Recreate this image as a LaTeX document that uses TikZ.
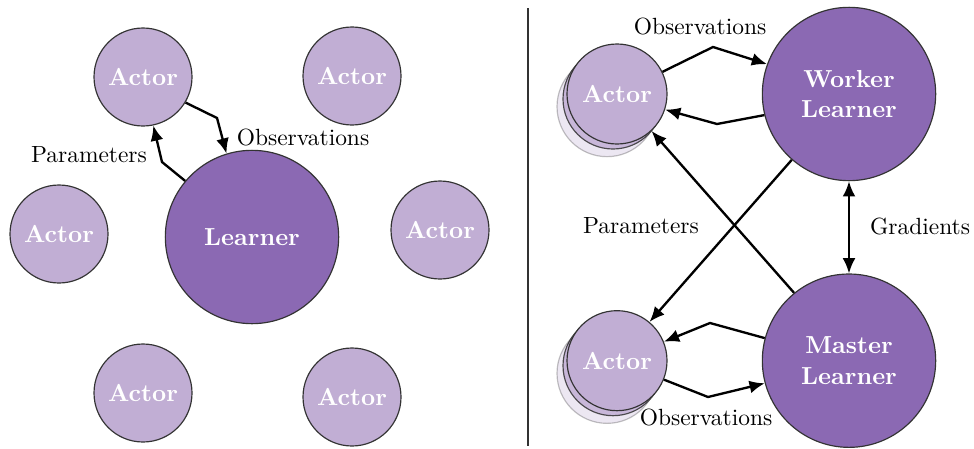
\documentclass[tikz,border=0pt]{standalone}
\usetikzlibrary{arrows.meta,shadows,positioning}
\definecolor{actorcol}{HTML}{C1AED4}
\definecolor{learnercol}{HTML}{8B69B3}
\begin{document}
\begin{tikzpicture}[x=0.015cm, y=-0.015cm, node distance=4cm,
        >={Latex[length=6.5pt,width=5.5pt]},
        every node/.style={circle, draw=black!80, line width=0.5pt, text=white, inner sep=0pt,
            align=center, font=\fontsize{10.5}{13}\selectfont\bfseries},
        actor/.style={fill=actorcol, minimum size=1.47cm},
        learner/.style={fill=learnercol, minimum size=2.6cm},
        crowd/.style={actor, minimum size=1.5cm,
            copy shadow={shadow xshift=-0.15cm, shadow yshift=-0.19cm, opacity=0.3},
            copy shadow={shadow xshift=-0.06cm, shadow yshift=-0.075cm, opacity=0.85}},
        lbl/.style={draw=none, rectangle, text=black, font=\normalsize},
        link/.style={->, line width=1pt}]
        \useasboundingbox (0,0) rectangle (974,448);

        % Left: one learner, many actors
        \node[learner] (L) at (252,237) {Learner};
        \node[actor] (a1) at (143,77) {Actor};
        \node[actor] (a2) at (352,76) {Actor};
        \node[actor] (a3) at (59,234) {Actor};
        \node[actor] (a4) at (440,230) {Actor};
        \node[actor] (a5) at (143,393) {Actor};
        \node[actor] (a6) at (352,397) {Actor};

        \draw[link] (a1.-31) -- (217,118) -- (L.107);
        \draw[link] (L.140) -- (162,162) -- (a1.-78);
        \node[lbl] (obs1) at (303,137) {Observations};
        \node[lbl] (par1) at (89,155) {Parameters};

        % Divider
        \draw[black!80, line width=0.6pt] (528,8) -- (528,446);

        % Right: worker and master learners
        \node[learner] (W) at (849,94) {Worker\\Learner};
        \node[learner] (M) [below of=W] {Master\\Learner};
        \node[crowd] (b1) at (617,94) {Actor};
        \node[crowd] (b2) [below of=b1] {Actor};

        \draw[link] (b1.26) -- (713,47) -- (W.160);
        \draw[link] (W.194) -- (717,124) -- (b1.-18);
        \draw[link] (M.165) -- (710,323) -- (b2.22);
        \draw[link] (b2.-22) -- (708,397) -- (M.195);
        \draw[link] (W.229) -- (b2.50);
        \draw[link] (M.129) -- (b1.-47);
        \draw[link, <->] (W) -- (M);

        \node[lbl] (obs2) at (700,26) {Observations};
        \node[lbl] (obs3) at (706,417) {Observations};
        \node[lbl] (par2) at (641,226) {Parameters};
        \node[lbl] (grad) at (920,226) {Gradients};
    \end{tikzpicture}
\end{document}
